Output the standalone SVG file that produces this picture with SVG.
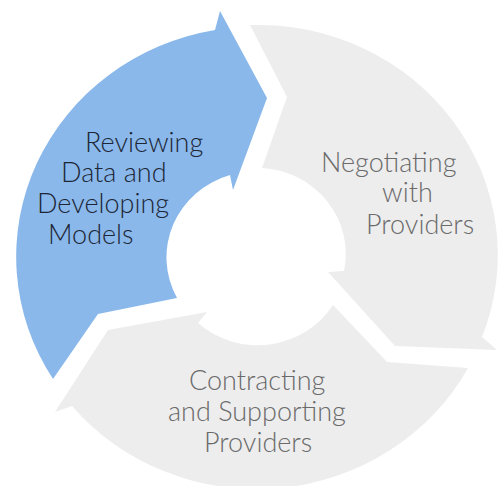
<svg xmlns="http://www.w3.org/2000/svg" width="498" height="486" viewBox="0 0 498 486">
<style>
.seg-blue{fill:#8ab8ea;}
.seg-gray{fill:#ededed;}
.t{font-family:Lato,"Open Sans","Liberation Sans",sans-serif;font-weight:300;font-size:27px;}
.tb{fill:#1c2636;}
.tg{fill:#6a6a6a;}
</style>
<rect width="498" height="486" fill="#ffffff"/>
<g id="connectors"></g>
<g id="node-reviewing">
<path class="seg-blue" d="M215 30 L220 11 L267 98 L233 190 L230 175 A89 86 0 0 0 177 298 L98 314 L53 379 A240 230 0 0 1 215 30 Z"/>
<text class="t tb" x="85" y="152">Reviewing</text>
<text class="t tb" x="61" y="182">Data and</text>
<text class="t tb" x="37" y="213">Developing</text>
<text class="t tb" x="48" y="244">Models</text>
</g>
<g id="node-negotiating">
<path class="seg-gray" d="M250 25 A240 230 0 0 1 482 337 L497 350 L395 346 L328 272 L344 271 A89 86 0 0 0 262 168 L287 97 Z"/>
<text class="t tg" x="321" y="172">Negotiating</text>
<text class="t tg" x="382" y="202">with</text>
<text class="t tg" x="366" y="234">Providers</text>
</g>
<g id="node-contracting">
<path class="seg-gray" d="M468 368 A240 230 0 0 1 72 406 L55 412 L108 330 L207 312 L198 323 A89 86 0 0 0 333 305 L387 362 Z"/>
<text class="t tg" x="189" y="390">Contracting</text>
<text class="t tg" x="168" y="421">and Supporting</text>
<text class="t tg" x="204" y="452">Providers</text>
</g>
</svg>
